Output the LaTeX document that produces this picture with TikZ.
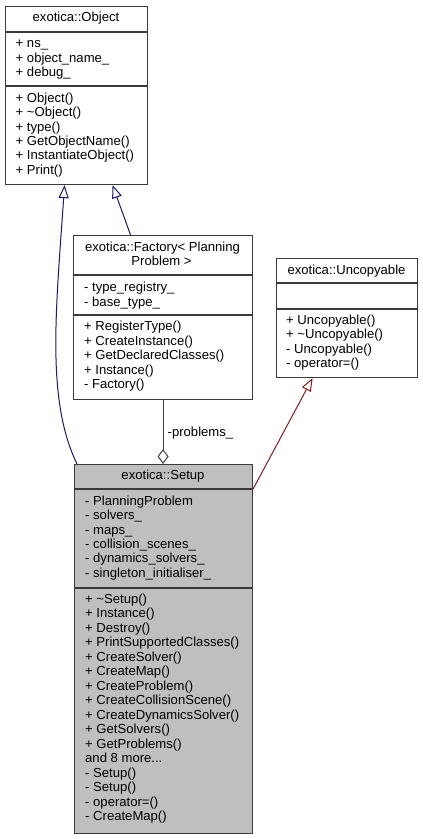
\documentclass[tikz,border=0pt]{standalone}
\usepackage{fontspec}
\setmainfont{Liberation Sans}
\usetikzlibrary{arrows.meta,calc}
\definecolor{edgeblue}{HTML}{191970}
\definecolor{edgered}{HTML}{8B1A1A}
\definecolor{edgegray}{HTML}{404040}
\definecolor{boxline}{HTML}{3A3A3A}
\definecolor{setupgray}{HTML}{BFBFBF}
\newcommand\moredots{...}
\begin{document}
\begin{tikzpicture}[x=1pt,y=-1pt,
  box/.style={draw=boxline, line width=1.1pt, inner sep=0pt, anchor=north west, fill=white},
  sepline/.style={draw=boxline, line width=1.1pt},
  mtext/.style={anchor=base west, inner sep=0pt, font=\fontsize{13.1}{14.4}\selectfont},
  ttext/.style={anchor=base, inner sep=0pt, font=\fontsize{13.1}{14.4}\selectfont},
  inherit/.style={line width=1pt, -{Triangle[open, length=13pt, width=10pt]}},
  aggr/.style={line width=1pt, edgegray, -{Diamond[open, length=15pt, width=11pt]}},
]
\useasboundingbox (0,0) rectangle (423,839);

% ---------- exotica::Object ----------
\node[box, minimum width=142pt, minimum height=178pt] (object) at (5,6) {};
\draw[sepline] (5,32) -- (147,32);
\draw[sepline] (5,86) -- (147,86);
\node[ttext] (objtitle) at (76,21.7) {exotica::Object};
\foreach \t [count=\i from 0] in {+ ns\_, + object\_name\_, + debug\_}
  \node[mtext] (obja\i) at (15.5,{47.5+14.5*\i}) {\t};
\foreach \t [count=\i from 0] in {+ Object(), + \textasciitilde Object(), + type(), + GetObjectName(), + InstantiateObject(), + Print()}
  \node[mtext] (objm\i) at (15.5,{102.3+14.4*\i}) {\t};

% ---------- exotica::Factory< PlanningProblem > ----------
\node[box, minimum width=179pt, minimum height=164pt] (factory) at (73,235) {};
\draw[sepline] (73,275) -- (252,275);
\draw[sepline] (73,315) -- (252,315);
\node[ttext] (factitle1) at (162.5,251.7) {exotica::Factory< Planning};
\node[ttext] (factitle2) at (161.5,265.5) {Problem >};
\foreach \t [count=\i from 0] in {- type\_registry\_, - base\_type\_}
  \node[mtext] (faca\i) at (84,{291.5+14.5*\i}) {\t};
\foreach \t [count=\i from 0] in {+ RegisterType(), + CreateInstance(), + GetDeclaredClasses(), + Instance(), - Factory()}
  \node[mtext] (facm\i) at (84,{330.8+14.4*\i}) {\t};

% ---------- exotica::Uncopyable ----------
\node[box, minimum width=141pt, minimum height=119pt] (uncop) at (276,258) {};
\draw[sepline] (276,283) -- (417,283);
\draw[sepline] (276,309) -- (417,309);
\node[ttext] (unctitle) at (346.5,274.5) {exotica::Uncopyable};
\foreach \t [count=\i from 0] in {+ Uncopyable(), + \textasciitilde Uncopyable(), - Uncopyable(), - operator=()}
  \node[mtext] (uncm\i) at (286,{324.3+14.4*\i}) {\t};

% ---------- exotica::Setup ----------
\node[box, fill=setupgray, minimum width=178pt, minimum height=369pt] (setup) at (74,464) {};
\draw[sepline] (74,489) -- (252,489);
\draw[sepline] (74,588) -- (252,588);
\node[ttext] (settitle) at (163,479.3) {exotica::Setup};
\foreach \t [count=\i from 0] in {- PlanningProblem, - solvers\_, - maps\_, - collision\_scenes\_, - dynamics\_solvers\_, - singleton\_initialiser\_}
  \node[mtext] (seta\i) at (85,{505.5+14.3*\i}) {\t};
\foreach \t [count=\i from 0] in {+ \textasciitilde Setup(), + Instance(), + Destroy(), + PrintSupportedClasses(), + CreateSolver(), + CreateMap(), + CreateProblem(), + CreateCollisionScene(), + CreateDynamicsSolver(), + GetSolvers(), + GetProblems(), and 8 more\moredots, - Setup(), - Setup(), - operator=(), - CreateMap()}
  \node[mtext] (setm\i) at (85,{603.3+14.5*\i}) {\t};

% ---------- connectors ----------
\draw[inherit, edgeblue] ($(setup.north west)+(3,0)$) .. controls (46,400) and (56,310) .. ($(object.south)+(-12,0)$);
\draw[inherit, edgeblue] ($(factory.north)+(-32.5,0)$) -- ($(object.south)+(36,0)$);
\draw[inherit, edgered] ($(setup.north east)+(0,25)$) -- ($(uncop.south)+(-34.5,0)$);
\draw[aggr] (factory.south) -- (factory.south |- setup.north);
\node[mtext] (problbl) at (167.5,436) {-problems\_};
\end{tikzpicture}
\end{document}
